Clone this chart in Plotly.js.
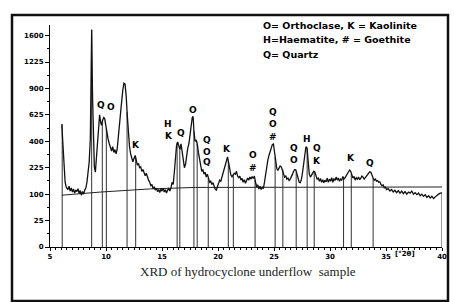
<!DOCTYPE html>
<html>
<head>
<meta charset="utf-8">
<script src="https://cdn.plot.ly/plotly-3.0.1.min.js"></script>
<style>
html,body{margin:0;padding:0;background:#fff;}
#chart{width:454px;height:302px;}
</style>
</head>
<body>
<div id="chart"></div>
<script>
// 2-theta (degrees) and intensity (counts)
const twoTheta = [6.05,6.15,6.25,6.35,6.45,6.6,6.7,6.8,6.9,7.0,7.1,7.2,7.3,7.4,7.5,7.6,7.7,7.8,7.9,8.0,8.1,8.2,8.3,8.4,8.5,8.6,8.66,8.72,8.8,8.88,8.96,9.05,9.15,9.25,9.35,9.43,9.52,9.6,9.7,9.8,9.88,9.98,10.08,10.18,10.3,10.4,10.5,10.6,10.7,10.8,10.9,11.0,11.1,11.2,11.35,11.5,11.6,11.7,11.8,11.9,12.0,12.1,12.2,12.3,12.4,12.5,12.6,12.7,12.8,12.9,13.0,13.1,13.2,13.3,13.4,13.5,13.6,13.7,13.8,13.9,14.0,14.1,14.2,14.3,14.4,14.5,14.6,14.7,14.8,14.9,15.0,15.1,15.2,15.3,15.4,15.5,15.6,15.7,15.8,15.9,16.0,16.1,16.2,16.3,16.4,16.5,16.6,16.7,16.8,16.9,17.0,17.1,17.2,17.3,17.4,17.5,17.6,17.7,17.78,17.85,17.95,18.05,18.15,18.25,18.35,18.45,18.55,18.65,18.75,18.85,18.95,19.05,19.15,19.25,19.35,19.45,19.55,19.65,19.75,19.85,19.95,20.05,20.15,20.25,20.35,20.45,20.55,20.65,20.75,20.85,20.95,21.05,21.15,21.25,21.35,21.45,21.55,21.65,21.75,21.85,21.95,22.05,22.15,22.25,22.35,22.45,22.55,22.65,22.75,22.85,22.95,23.05,23.15,23.25,23.35,23.45,23.55,23.65,23.75,23.85,23.95,24.05,24.15,24.25,24.35,24.45,24.55,24.65,24.75,24.85,24.95,25.05,25.15,25.25,25.35,25.45,25.55,25.65,25.75,25.85,25.95,26.05,26.15,26.25,26.35,26.45,26.55,26.65,26.75,26.85,26.95,27.05,27.15,27.25,27.35,27.45,27.55,27.65,27.75,27.85,27.95,28.05,28.15,28.25,28.35,28.45,28.55,28.65,28.75,28.85,28.95,29.05,29.15,29.25,29.35,29.45,29.55,29.65,29.75,29.85,29.95,30.05,30.15,30.25,30.35,30.45,30.55,30.65,30.75,30.85,30.95,31.05,31.15,31.25,31.35,31.45,31.55,31.65,31.75,31.85,31.95,32.05,32.15,32.25,32.35,32.45,32.55,32.65,32.75,32.85,32.95,33.05,33.15,33.25,33.35,33.45,33.55,33.65,33.75,33.85,33.95,34.05,34.15,34.25,34.35,34.45,34.55,34.65,34.75,34.85,34.95,35.05,35.2,35.35,35.5,35.65,35.8,35.95,36.1,36.25,36.4,36.55,36.7,36.85,37.0,37.15,37.3,37.45,37.6,37.75,37.9,38.05,38.2,38.35,38.5,38.65,38.8,38.95,39.1,39.25,39.4,39.55,39.7,39.85,40.0];
const counts = [540,350,190,150,128,118,132,112,125,108,120,104,116,110,122,102,114,96,110,100,116,124,150,190,260,420,900,1690,800,380,230,200,300,450,580,625,560,530,575,600,590,520,470,420,380,350,330,360,320,340,310,345,420,520,700,880,960,950,820,620,430,360,310,290,260,280,300,270,240,250,225,230,205,215,190,182,195,170,160,150,135,140,122,130,116,124,110,118,106,120,112,124,108,118,104,116,122,112,125,150,140,200,300,370,395,360,340,380,330,260,225,245,300,350,380,430,520,600,610,480,400,410,380,320,280,240,205,215,190,200,175,190,165,150,155,140,148,132,120,116,130,145,160,155,175,190,210,240,270,290,255,210,185,176,185,195,190,205,180,172,180,160,168,150,162,145,158,170,160,175,165,178,168,180,150,130,138,120,132,118,128,122,150,190,230,270,300,330,350,375,380,330,260,220,210,225,235,230,210,195,175,180,165,170,158,165,175,190,205,215,212,185,160,150,148,165,200,260,330,360,350,260,190,175,185,195,205,200,180,165,170,155,168,150,162,148,160,152,170,150,165,155,172,150,168,158,175,160,170,155,165,160,178,165,172,180,190,200,212,205,180,170,178,160,172,165,175,162,170,180,175,165,172,180,185,195,202,200,180,170,160,165,155,158,150,152,140,135,138,125,128,118,122,112,118,108,115,106,114,104,112,102,110,100,108,104,112,100,106,98,104,94,100,92,98,88,94,86,92,84,90,96,100,104,105];

// background curve
const bgTheta = [6.05, 9.5, 14, 18, 40];
const bgCounts = [96, 108, 121, 127, 129];

// reference stick lines (position, counts they reach)
const stickPos = [6.09,8.72,9.67,10.03,11.88,12.65,16.35,16.59,17.85,18.14,19.13,20.92,21.37,23.31,25.10,25.79,26.98,27.96,28.59,31.21,31.90,33.85,40.0];
const stickCounts = [540,1690,560,500,650,290,390,340,480,380,170,265,190,160,290,215,200,350,205,168,190,170,105];

// y tick labels (square-root scale)
const yTickCounts = [0,25,100,225,400,625,900,1225,1600];
const xTickVals = [5,10,15,20,25,30,35,40];

// peak phase labels: letter, 2theta, counts level
const peakLetters = ['K','Q','O','K','H','K','Q','O','Q','O','Q','K','O','#','Q','O','#','Q','O','H','Q','K','K','Q'];
const peakTheta   = [8.63,9.52,10.42,12.70,15.55,15.62,16.68,17.76,19.0,19.0,19.0,20.8,23.13,23.13,24.92,24.92,24.92,26.8,26.8,27.96,28.86,28.86,31.9,33.6];
const peakCounts  = [1806,718,702,372,543,441,467,671,408,324,259,342,303,222,650,543,433,350,269,416,350,266,282,253];

const legendLines = ['O= Orthoclase, K = Kaolinite','H=Haematite, # = Goethite','Q= Quartz'];

const sq = v => Math.sqrt(v);

const sx = [], sy = [];
stickPos.forEach((p,i)=>{ sx.push(p,p,null); sy.push(0, sq(stickCounts[i]), null); });

const traces = [
  {x: sx, y: sy, type:'scatter', mode:'lines', line:{color:'#333', width:1}, hoverinfo:'skip', cliponaxis:false},
  {x: bgTheta, y: bgCounts.map(sq), type:'scatter', mode:'lines', line:{color:'#222', width:1}, hoverinfo:'skip'},
  {x: twoTheta, y: counts.map(sq), type:'scatter', mode:'lines', line:{color:'#111', width:1.3}, hoverinfo:'skip', cliponaxis:false}
];

const lblFont = {family:'DejaVu Sans', size:9, color:'#000', weight:'bold'};
const annotations = [];
peakLetters.forEach((t,i)=>{
  annotations.push({text:t, x:peakTheta[i], y:sq(peakCounts[i]), xref:'x', yref:'y', showarrow:false, font:lblFont, xanchor:'center', yanchor:'middle'});
});
legendLines.forEach((t,i)=>{
  annotations.push({text:t, xref:'paper', yref:'paper', x:(261-50)/392, y:(247-(25+i*14.5))/222, xanchor:'left', yanchor:'middle', showarrow:false,
    font:{family:'DejaVu Sans', size:9.5, color:'#000', weight:'bold'}});
});
annotations.push({text:'[°2θ]', xref:'paper', yref:'paper', x:(405-50)/392, y:(247-254)/222, xanchor:'center', yanchor:'middle', showarrow:false,
  font:{family:'DejaVu Sans', size:7, color:'#000', weight:'bold'}});
annotations.push({text:'XRD of hydrocyclone underflow  sample', xref:'paper', yref:'paper', x:(248-50)/392, y:(247-271)/222, xanchor:'center', yanchor:'middle', showarrow:false,
  font:{family:'Liberation Serif', size:13, color:'#222'}});

const layout = {
  width:454, height:302,
  margin:{l:50, r:12, t:25, b:55, pad:0},
  paper_bgcolor:'#fff', plot_bgcolor:'#fff',
  showlegend:false,
  xaxis:{range:[5,40], showgrid:false, zeroline:false, showline:true, linecolor:'#000', linewidth:1,
    ticks:'outside', ticklen:3, tickcolor:'#000', tickmode:'array', tickvals:xTickVals,
    ticktext:xTickVals.map(String),
    tickfont:{family:'DejaVu Sans', size:7, color:'#000', weight:'bold'},
    minor:{dtick:0.5, tick0:5, ticks:'outside', ticklen:2, tickcolor:'#000', showgrid:false}},
  yaxis:{range:[0,42], showgrid:false, zeroline:false, showline:true, linecolor:'#000', linewidth:1,
    ticks:'outside', ticklen:4, tickcolor:'#000', tickmode:'array',
    tickvals:yTickCounts.map(sq), ticktext:yTickCounts.map(String),
    tickfont:{family:'DejaVu Sans', size:7, color:'#000', weight:'bold'},
    minor:{dtick:2.5, tick0:0, ticks:'outside', ticklen:2, tickcolor:'#000', showgrid:false}},
  annotations: annotations,
  shapes:[
    {type:'rect', xref:'paper', yref:'paper', x0:(12-50)/392, x1:(448-50)/392, y0:(247-301)/222, y1:(247-15)/222,
     line:{color:'#111', width:2.5}, fillcolor:'rgba(0,0,0,0)', layer:'above'}
  ]
};

Plotly.newPlot('chart', traces, layout, {staticPlot:true, displayModeBar:false});
</script>
</body>
</html>
